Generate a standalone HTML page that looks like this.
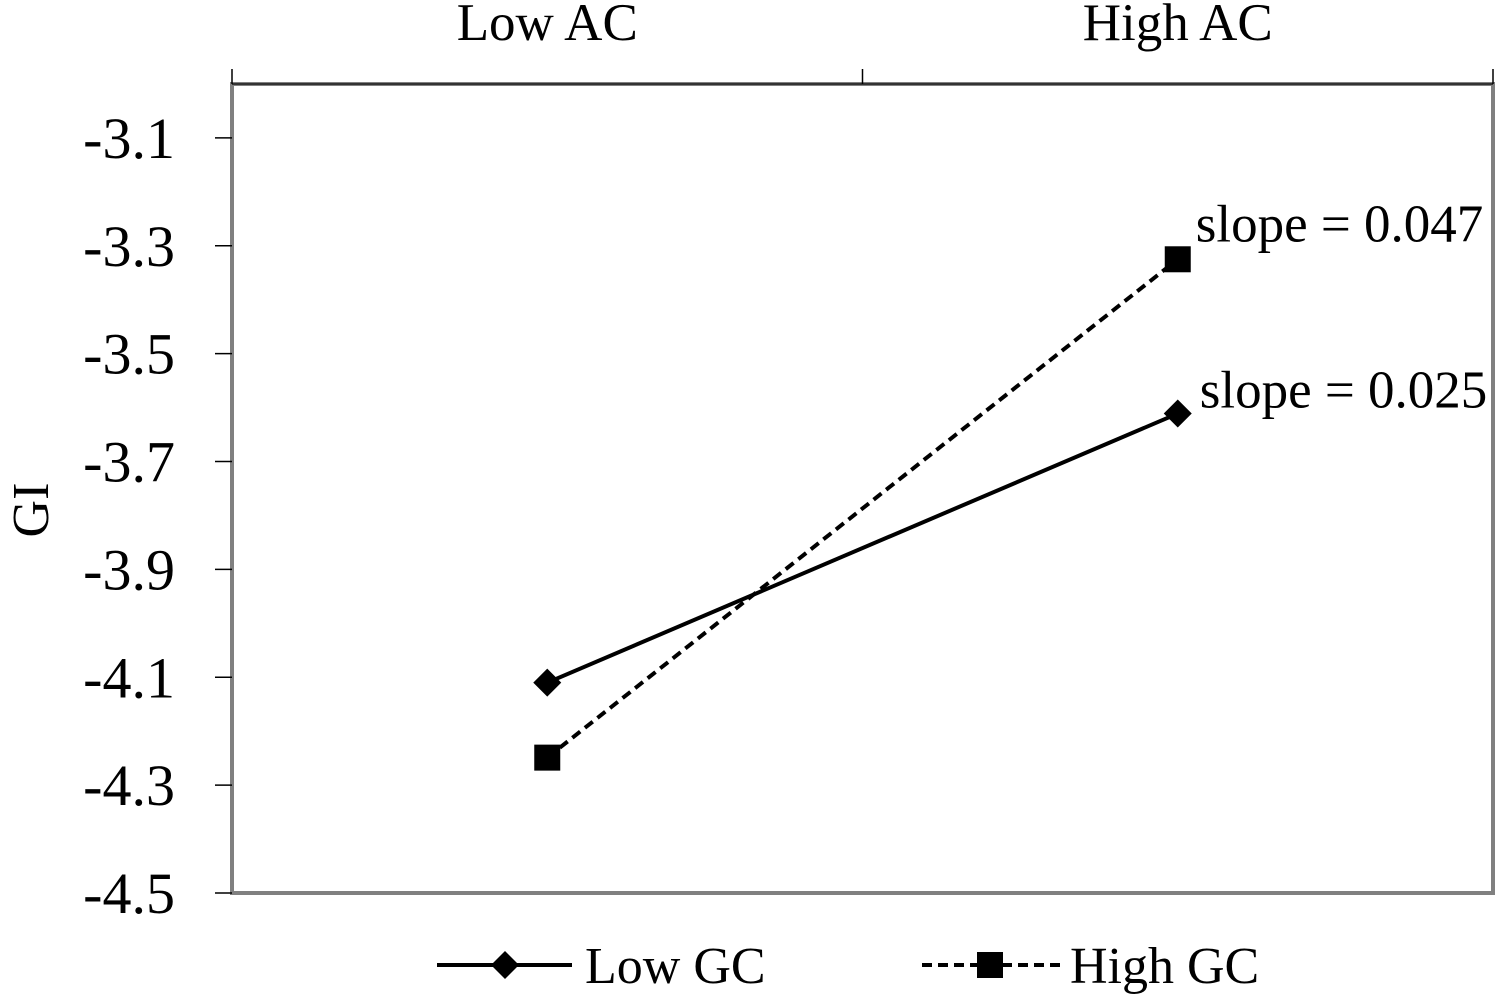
<!DOCTYPE html>
<html><head><meta charset="utf-8"><style>
body{margin:0;background:#fff;}
svg{display:block;font-family:"Liberation Serif",serif;}
</style></head><body>
<svg id="chart" width="1500" height="995" viewBox="0 0 1500 995">
<g id="axes"></g><g id="series"></g><g id="legend"></g>
</svg>
<script>
const categories = ["Low AC", "High AC"];
const lowGC = [-4.11, -3.611];
const highGC = [-4.249, -3.325];
const slopeLabels = ["slope = 0.025", "slope = 0.047"];
const yTicks = [-4.5, -4.3, -4.1, -3.9, -3.7, -3.5, -3.3, -3.1];
const yMin = -4.5, yMax = -3.0;

const NS = "http://www.w3.org/2000/svg";
const L = 232, R = 1493, T = 84, B = 893;
const y = v => B - (v - yMin) / (yMax - yMin) * (B - T);
const bw = (R - L) / categories.length;
const x = i => L + bw * (i + 0.5);
function mk(tag, attrs, parent, text) {
  const e = document.createElementNS(NS, tag);
  for (const k in attrs) e.setAttribute(k, attrs[k]);
  if (text !== undefined) e.textContent = text;
  parent.appendChild(e);
  return e;
}
const axes = document.getElementById("axes");
const ser = document.getElementById("series");
const leg = document.getElementById("legend");

let e = mk("rect", {x: L, y: T, width: R - L, height: B - T, fill: "none", stroke: "#808080", "stroke-width": 4}, axes);


e = mk("line", {x1: L, y1: T, x2: R, y2: T, stroke: "#333", "stroke-width": 2}, axes);


for (let i = 0; i <= categories.length; i++) {
  const tx = L + bw * i;
  e = mk("line", {x1: tx, y1: 69, x2: tx, y2: T, stroke: "#000", "stroke-width": 1.5}, axes);
  
  
}
categories.forEach((c, i) => {
  e = mk("text", {x: x(i), y: 40, "font-size": 53, "text-anchor": "middle"}, axes, c);
  
  
});
yTicks.forEach(v => {
  e = mk("line", {x1: 215, y1: y(v), x2: L, y2: y(v), stroke: "#000", "stroke-width": 1.5}, axes);
  
  
  e = mk("text", {x: 175, y: y(v) + 20, "font-size": 58, "text-anchor": "end"}, axes, v.toFixed(1));
  
  
});
e = mk("text", {x: 0, y: 0, "font-size": 52, "text-anchor": "middle", transform: "translate(48,510) rotate(-90)"}, axes, "GI");



function diamond(cx, cy, s, parent) {
  return mk("polygon", {points: `${cx},${cy-s} ${cx+s},${cy} ${cx},${cy+s} ${cx-s},${cy}`, fill: "#000"}, parent);
}
function square(cx, cy, s, parent) {
  return mk("rect", {x: cx - s, y: cy - s, width: 2 * s, height: 2 * s, fill: "#000"}, parent);
}
e = mk("polyline", {points: lowGC.map((v, i) => x(i) + "," + y(v)).join(" "), fill: "none", stroke: "#000", "stroke-width": 4}, ser);


lowGC.forEach((v, i) => {
  e = diamond(x(i), y(v), 14, ser);
  
  
});
e = mk("polyline", {points: highGC.map((v, i) => x(i) + "," + y(v)).join(" "), fill: "none", stroke: "#000", "stroke-width": 4, "stroke-dasharray": "10 6"}, ser);


highGC.forEach((v, i) => {
  e = square(x(i), y(v), 13, ser);
  
  
});
e = mk("text", {x: x(1) + 22, y: y(lowGC[1]) - 6, "font-size": 53}, ser, slopeLabels[0]);


e = mk("text", {x: x(1) + 18, y: y(highGC[1]) - 18, "font-size": 53}, ser, slopeLabels[1]);



const ly = 965;
e = mk("line", {x1: 437, y1: ly, x2: 572, y2: ly, stroke: "#000", "stroke-width": 4}, leg);


e = diamond(505, ly, 14, leg);


e = mk("text", {x: 585, y: ly + 18, "font-size": 52}, leg, "Low GC");


e = mk("line", {x1: 922, y1: ly, x2: 1060, y2: ly, stroke: "#000", "stroke-width": 4, "stroke-dasharray": "10 6"}, leg);


e = square(990, ly, 13, leg);


e = mk("text", {x: 1070, y: ly + 18, "font-size": 52}, leg, "High GC");


</script>
</body></html>
